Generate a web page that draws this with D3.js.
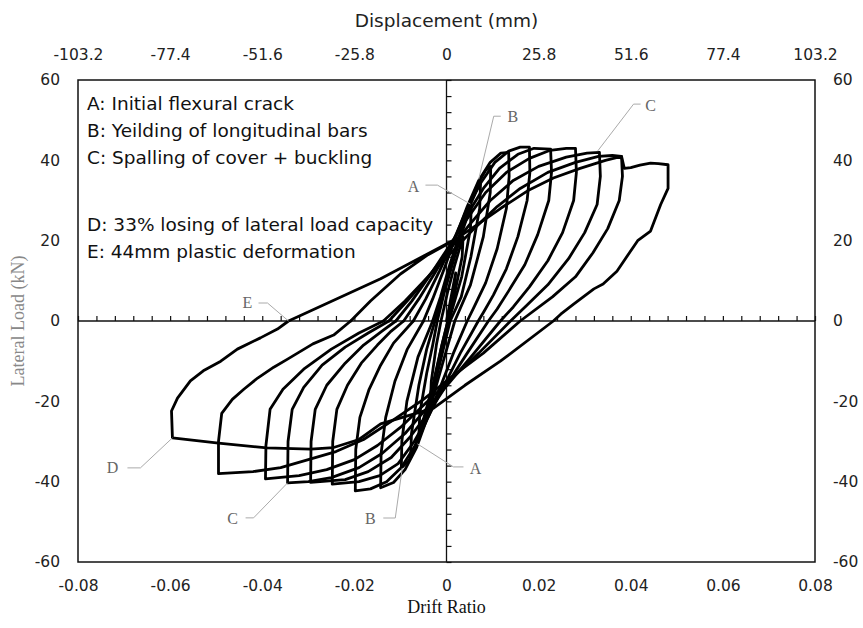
<!DOCTYPE html>
<html>
<head>
<meta charset="utf-8">
<script src="https://cdn.jsdelivr.net/npm/d3@7"></script>
<style>
  body { margin: 0; background: #fff; }
  svg { display: block; }
</style>
</head>
<body>
<div id="chart"></div>
<script>
// tick values
const driftTicks = [-0.08, -0.06, -0.04, -0.02, 0, 0.02, 0.04, 0.06, 0.08];
const dispTicks = [-103.2, -77.4, -51.6, -25.8, 0, 25.8, 51.6, 77.4, 103.2];
const loadTicks = [-60, -40, -20, 0, 20, 40, 60];

// hysteresis cycles, [drift ratio, lateral load kN]
const cycle1 = [[0,0],[0.001,6],[0.002,12],[0.0017,8],[0.0003,0],[-0.001,-6],[-0.0022,-12.5],[-0.0035,-20],[-0.0033,-15],[-0.0022,-6],[-0.0012,0]];
const cycle2 = [[-0.0012,0],[0.0002,7],[0.0018,14],[0.0036,21],[0.0034,16],[0.0018,7],[0.0003,0],[-0.0012,-7],[-0.0028,-15],[-0.0044,-22],[-0.006,-28.5],[-0.0058,-23],[-0.0043,-13],[-0.003,-6],[-0.002,0]];
const cycle3 = [[-0.002,0],[-0.0005,7],[0.0015,15],[0.0035,22.5],[0.0054,29],[0.0052,23],[0.0033,11],[0.0005,0],[-0.0012,-8],[-0.003,-17],[-0.005,-25],[-0.0066,-30.5],[-0.0078,-34],[-0.0076,-28],[-0.006,-16],[-0.0043,-7],[-0.0025,0]];
const cycle4 = [[-0.0025,0],[-0.0008,7],[0.0012,15],[0.0033,23],[0.0054,29.5],[0.0067,33],[0.0074,34.5],[0.0072,28],[0.0053,16],[0.0032,6],[0.0008,0],[-0.0009,-8],[-0.0028,-17],[-0.0047,-25],[-0.0066,-31],[-0.0082,-34.8],[-0.0098,-36.6],[-0.0097,-30],[-0.0086,-20],[-0.0062,-9],[-0.003,0]];
const cycle5 = [[-0.003,0],[-0.0013,6],[0.0007,14],[0.003,22],[0.005,29],[0.007,34.5],[0.0085,37.5],[0.0096,38.5],[0.0095,32],[0.008,21],[0.0052,9],[0.0018,0],[-0.0002,-8],[-0.0022,-16],[-0.0043,-24.5],[-0.0065,-31.5],[-0.009,-37],[-0.0115,-40.2],[-0.0143,-41.5],[-0.0142,-33],[-0.0132,-24],[-0.0112,-15],[-0.0085,-7],[-0.005,0]];
const cycle6 = [[-0.005,0],[-0.003,5.5],[-0.0005,13],[0.002,21],[0.0045,28.5],[0.007,35],[0.0095,39.5],[0.0118,41.8],[0.0135,42],[0.0136,36],[0.013,28],[0.011,18],[0.0085,9.5],[0.006,3.5],[0.0045,0],[0.0015,-8],[-0.0012,-16],[-0.004,-24],[-0.0068,-31],[-0.0098,-36.5],[-0.013,-40],[-0.0165,-41.8],[-0.0198,-42.3],[-0.0197,-32],[-0.0188,-24],[-0.0168,-17],[-0.0143,-11],[-0.0115,-5.5],[-0.0072,0]];
const cycle7 = [[-0.0072,0],[-0.0045,5.5],[-0.0015,12.5],[0.0015,20],[0.0045,28],[0.0075,34.5],[0.0105,39.5],[0.0135,42.3],[0.016,43.3],[0.018,43.3],[0.0181,37],[0.0175,30],[0.0155,21],[0.013,13],[0.0102,6.5],[0.0082,2.5],[0.0069,0],[0.003,-8],[-0.0005,-16],[-0.0038,-23.5],[-0.007,-30],[-0.0105,-35.5],[-0.0145,-38.5],[-0.019,-40],[-0.0248,-40.6],[-0.0247,-30],[-0.0238,-22],[-0.0215,-16],[-0.0185,-10.5],[-0.015,-6],[-0.012,-2.5],[-0.0093,0]];
const cycle8 = [[-0.0093,0],[-0.006,5.5],[-0.0025,12],[0.001,19],[0.0045,26.5],[0.008,33],[0.0115,38],[0.0155,41.5],[0.019,43],[0.0226,42.8],[0.0228,37],[0.0222,30],[0.0198,21.5],[0.017,14],[0.0135,7.5],[0.011,3],[0.0091,0],[0.0045,-8],[0,-16],[-0.004,-23],[-0.008,-29],[-0.012,-34],[-0.017,-37.5],[-0.022,-39.5],[-0.0295,-40.2],[-0.0294,-30],[-0.0285,-22],[-0.026,-16],[-0.022,-10.5],[-0.018,-6],[-0.014,-2.5],[-0.011,0]];
const cycle9 = [[-0.011,0],[-0.0075,5],[-0.0035,11.5],[0.0005,18.5],[0.0045,25.5],[0.0085,32],[0.013,37],[0.018,40.5],[0.0225,42.5],[0.026,43],[0.028,43],[0.0282,37],[0.0276,30],[0.0252,22],[0.022,15],[0.018,8.5],[0.0145,3.5],[0.0117,0],[0.006,-8],[0.0005,-15.5],[-0.0045,-22],[-0.009,-28],[-0.014,-33],[-0.019,-36.5],[-0.025,-39],[-0.03,-40],[-0.0345,-40.3],[-0.0344,-30],[-0.0335,-22],[-0.031,-16.5],[-0.027,-11],[-0.022,-6.5],[-0.017,-3],[-0.0125,0]];
const cycle10 = [[-0.0125,0],[-0.0085,5],[-0.004,11],[0.0005,17.5],[0.005,24],[0.0095,30],[0.0145,35],[0.02,38.5],[0.026,40.8],[0.0305,41.8],[0.0332,42],[0.0334,36],[0.0327,29],[0.03,22],[0.0265,15.5],[0.022,9],[0.0175,4],[0.0139,0],[0.007,-8],[0.0005,-15],[-0.005,-21],[-0.01,-26.5],[-0.015,-31],[-0.02,-34.5],[-0.026,-37],[-0.032,-38.5],[-0.0393,-39.3],[-0.0392,-31],[-0.0383,-22],[-0.0355,-17],[-0.031,-12],[-0.025,-7],[-0.019,-3],[-0.0137,0]];
const cycle11 = [[-0.0137,0],[-0.009,5],[-0.004,11],[0.001,17],[0.006,23],[0.011,28.5],[0.016,33],[0.022,37],[0.028,39.5],[0.033,41],[0.036,41.2],[0.038,41],[0.0382,36],[0.0375,30],[0.035,23],[0.0318,17],[0.028,11],[0.023,6],[0.016,0],[0.008,-8],[0.001,-14],[-0.005,-19.5],[-0.012,-25],[-0.018,-29.5],[-0.024,-32.5],[-0.03,-34.5],[-0.036,-36.5],[-0.042,-37.5],[-0.0495,-38],[-0.0495,-30],[-0.0488,-23],[-0.0465,-19.5],[-0.044,-17],[-0.041,-14.2],[-0.0375,-11.5],[-0.0345,-9.5],[-0.029,-5.7],[-0.0245,-3.5],[-0.0208,0]];
const cycle12 = [[-0.0208,0],[-0.0165,5],[-0.01,11.7],[-0.004,16.5],[0.0015,20],[0.0067,24],[0.0117,28],[0.0176,32.4],[0.0232,35.6],[0.029,38],[0.0345,40],[0.038,41],[0.0386,38],[0.04,38.2],[0.042,38.8],[0.0443,39.3],[0.046,39.2],[0.0481,38.9],[0.0481,33],[0.0465,29],[0.0443,22.4],[0.0415,20],[0.037,12.4],[0.034,9.2],[0.032,8],[0.0276,4.2],[0.0248,1.7],[0.0232,0],[0.0117,-10],[0.004,-16],[-0.0028,-21.7],[-0.0143,-25.6],[-0.019,-29.5],[-0.0245,-31.5],[-0.0295,-31.9],[-0.039,-31.6],[-0.0495,-30.4],[-0.0595,-29.1],[-0.0597,-22.4],[-0.0584,-19.2],[-0.0556,-14.9],[-0.0528,-12.4],[-0.049,-10],[-0.0454,-7],[-0.0404,-4.2],[-0.0367,-2],[-0.0343,0],[-0.0143,10.5],[0.0013,20]];

const cycles = [cycle1, cycle2, cycle3, cycle4, cycle5, cycle6, cycle7, cycle8, cycle9, cycle10, cycle11, cycle12];

const legendLines = [
  'A: Initial flexural crack',
  'B: Yeilding of longitudinal bars',
  'C: Spalling of cover + buckling',
  '',
  'D: 33% losing of lateral load capacity',
  'E: 44mm plastic deformation'
];

// event markers: label, target point [drift, load], leader offsets in px from target
const events = [
  { label: 'A', at: [0.0052, 29.1], elbow: [-33, -19], start: [-45, -19], text: [-57, -18] },
  { label: 'A', at: [-0.0063, -30.6], elbow: [36, 23], start: [46, 23], text: [58, 24] },
  { label: 'B', at: [0.007, 35.3], elbow: [15, -63], start: [22, -63], text: [34, -63] },
  { label: 'B', at: [-0.0096, -36.6], elbow: [-7, 50], start: [-19, 50], text: [-32, 50] },
  { label: 'C', at: [0.0328, 42.3], elbow: [36, -47], start: [43, -47], text: [53, -46] },
  { label: 'C', at: [-0.0345, -40.3], elbow: [-34, 35], start: [-42, 35], text: [-55, 36] },
  { label: 'D', at: [-0.0595, -29.1], elbow: [-32, 30], start: [-45, 30], text: [-60, 30] },
  { label: 'E', at: [-0.0343, 0], elbow: [-21, -18], start: [-30, -18], text: [-41, -19] }
];

const W = 863, H = 628;
const plotLeft = 78, plotRight = 815, plotTop = 80, plotBottom = 562;

const svg = d3.select('#chart').append('svg')
  .attr('width', W)
  .attr('height', H);

const x = d3.scaleLinear().domain([-0.08, 0.08]).range([plotLeft, plotRight]);
const xTop = d3.scaleLinear().domain([-103.2, 103.2]).range([plotLeft, plotRight]);
const y = d3.scaleLinear().domain([-60, 60]).range([plotBottom, plotTop]);

const tickFont = '"DejaVu Sans", sans-serif';

function styleLabels(g) {
  g.select('.domain').remove();
  g.selectAll('text').style('font-family', tickFont).style('font-size', '15.5px').style('fill', '#222');
}

// bottom axis labels
svg.append('g')
  .attr('transform', `translate(0,${plotBottom})`)
  .call(d3.axisBottom(x).tickValues(driftTicks).tickSize(0).tickPadding(18).tickFormat(d => String(d)))
  .call(styleLabels);

// top axis labels
svg.append('g')
  .attr('transform', `translate(0,${plotTop})`)
  .call(d3.axisTop(xTop).tickValues(dispTicks).tickSize(0).tickPadding(20).tickFormat(d => String(d)))
  .call(styleLabels);

// left and right axis labels
svg.append('g')
  .attr('transform', `translate(${plotLeft},0)`)
  .call(d3.axisLeft(y).tickValues(loadTicks).tickSize(0).tickPadding(18).tickFormat(d => String(d)))
  .call(styleLabels);

svg.append('g')
  .attr('transform', `translate(${plotRight},0)`)
  .call(d3.axisRight(y).tickValues(loadTicks).tickSize(0).tickPadding(18).tickFormat(d => String(d)))
  .call(styleLabels);

// frame
svg.append('rect')
  .attr('x', plotLeft).attr('y', plotTop)
  .attr('width', plotRight - plotLeft).attr('height', plotBottom - plotTop)
  .attr('fill', 'none').attr('stroke', '#111').attr('stroke-width', 1.5);

// zero axes with small ticks
svg.append('line')
  .attr('x1', plotLeft).attr('x2', plotRight)
  .attr('y1', y(0)).attr('y2', y(0))
  .attr('stroke', '#111').attr('stroke-width', 1.3);
svg.append('line')
  .attr('x1', x(0)).attr('x2', x(0))
  .attr('y1', plotTop).attr('y2', plotBottom)
  .attr('stroke', '#111').attr('stroke-width', 1.3);

const zx = svg.append('g')
  .attr('transform', `translate(0,${y(0)})`)
  .call(d3.axisTop(x).tickValues(d3.range(-0.08, 0.0801, 0.004).filter(v => Math.abs(v) > 1e-6)).tickSize(5).tickFormat(''));
zx.select('.domain').remove();
zx.selectAll('line').attr('stroke', '#111').attr('stroke-width', 1.2);

const zy = svg.append('g')
  .attr('transform', `translate(${x(0)},0)`)
  .call(d3.axisRight(y).tickValues(d3.range(-60, 60.1, 4).filter(v => v !== 0)).tickSize(5).tickFormat(''));
zy.select('.domain').remove();
zy.selectAll('line').attr('stroke', '#111').attr('stroke-width', 1.2);

// hysteresis curve
const line = d3.line().x(d => x(d[0])).y(d => y(d[1]));
svg.append('g').selectAll('path')
  .data(cycles)
  .join('path')
  .attr('d', line)
  .attr('fill', 'none')
  .attr('stroke', '#000')
  .attr('stroke-width', 2.8)
  .attr('stroke-linejoin', 'round')
  .attr('stroke-linecap', 'round');

// event leaders
const ev = svg.append('g').selectAll('g').data(events).join('g');
ev.append('polyline')
  .attr('points', d => {
    const px = x(d.at[0]), py = y(d.at[1]);
    return [[px + d.start[0], py + d.start[1]], [px + d.elbow[0], py + d.elbow[1]], [px, py]].map(p => p.join(',')).join(' ');
  })
  .attr('fill', 'none')
  .attr('stroke', '#aaa')
  .attr('stroke-width', 1);
ev.append('text')
  .attr('x', d => x(d.at[0]) + d.text[0])
  .attr('y', d => y(d.at[1]) + d.text[1])
  .attr('dy', '0.35em')
  .attr('text-anchor', 'middle')
  .style('font-family', '"Liberation Serif", serif')
  .style('font-size', '16px')
  .style('fill', '#666')
  .text(d => d.label);

// legend text block
svg.append('g').selectAll('text')
  .data(legendLines)
  .join('text')
  .attr('x', 87)
  .attr('y', (d, i) => 104 + i * 27 + (i > 3 ? 13 : 0))
  .attr('dy', '0.35em')
  .style('font-family', '"DejaVu Sans", sans-serif')
  .style('font-size', '18.5px')
  .style('fill', '#111')
  .text(d => d);

// titles
svg.append('text')
  .attr('x', x(0)).attr('y', 21)
  .attr('dy', '0.35em')
  .attr('text-anchor', 'middle')
  .style('font-family', tickFont)
  .style('font-size', '18.5px')
  .style('fill', '#222')
  .text('Displacement (mm)');

svg.append('text')
  .attr('x', x(0)).attr('y', 607)
  .attr('dy', '0.35em')
  .attr('text-anchor', 'middle')
  .style('font-family', '"Liberation Serif", serif')
  .style('font-size', '18px')
  .style('fill', '#111')
  .text('Drift Ratio');

svg.append('text')
  .attr('transform', `translate(18,${y(0)}) rotate(-90)`)
  .attr('dy', '0.35em')
  .attr('text-anchor', 'middle')
  .style('font-family', '"Liberation Serif", serif')
  .style('font-size', '18px')
  .style('fill', '#888')
  .text('Lateral Load (kN)');
</script>
</body>
</html>
